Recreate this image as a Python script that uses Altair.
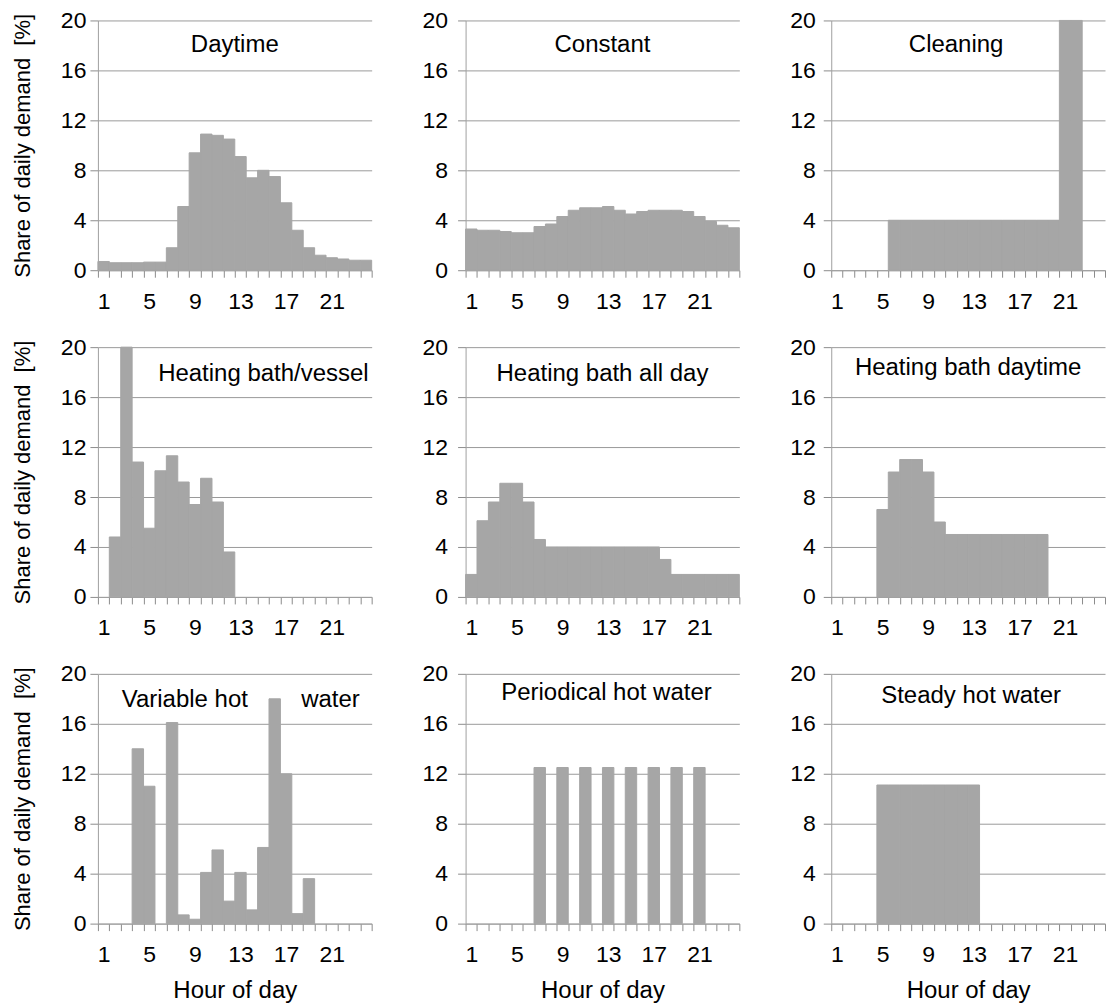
import altair as alt
import pandas as pd

hours = list(range(1, 25))
y_ticks = [0, 4, 8, 12, 16, 20]

daytime = [0.7, 0.6, 0.6, 0.6, 0.65, 0.65, 1.8, 5.1, 9.4, 10.9, 10.8, 10.5,
           9.1, 7.4, 8.0, 7.5, 5.4, 3.2, 1.8, 1.2, 1.0, 0.9, 0.8, 0.8]
constant = [3.3, 3.2, 3.2, 3.1, 3.0, 3.0, 3.5, 3.7, 4.3, 4.8, 5.0, 5.0,
            5.1, 4.8, 4.5, 4.7, 4.8, 4.8, 4.8, 4.7, 4.3, 3.9, 3.6, 3.4]
cleaning = [0, 0, 0, 0, 0, 4, 4, 4, 4, 4, 4, 4,
            4, 4, 4, 4, 4, 4, 4, 4, 20, 20, 0, 0]
heating_vessel = [0, 4.8, 20, 10.8, 5.5, 10.1, 11.3, 9.2, 7.4, 9.5, 7.6, 3.6,
                  0, 0, 0, 0, 0, 0, 0, 0, 0, 0, 0, 0]
heating_all_day = [1.8, 6.1, 7.6, 9.1, 9.1, 7.6, 4.6, 4, 4, 4, 4, 4,
                   4, 4, 4, 4, 4, 3, 1.8, 1.8, 1.8, 1.8, 1.8, 1.8]
heating_daytime = [0, 0, 0, 0, 7, 10, 11, 11, 10, 6, 5, 5,
                   5, 5, 5, 5, 5, 5, 5, 0, 0, 0, 0, 0]
variable = [0, 0, 0, 14, 11, 0, 16.1, 0.7, 0.35, 4.1, 5.9, 1.8,
            4.1, 1.1, 6.1, 18, 12, 0.8, 3.6, 0, 0, 0, 0, 0]
periodical = [0, 0, 0, 0, 0, 0, 12.5, 0, 12.5, 0, 12.5, 0,
              12.5, 0, 12.5, 0, 12.5, 0, 12.5, 0, 12.5, 0, 0, 0]
steady = [0, 0, 0, 0, 11.1, 11.1, 11.1, 11.1, 11.1, 11.1, 11.1, 11.1,
          11.1, 0, 0, 0, 0, 0, 0, 0, 0, 0, 0, 0]

titles = ["Daytime", "Constant", "Cleaning",
          "Heating bath/vessel", "Heating bath all day", "Heating bath daytime",
          "Variable hot" + "\u00a0" * 8 + "water", "Periodical hot water", "Steady hot water"]
series = [daytime, constant, cleaning,
          heating_vessel, heating_all_day, heating_daytime,
          variable, periodical, steady]

FONT = "Liberation Sans"
BAR = "#a6a6a6"
GRID = "#9a9a9a"
AXIS = "#a0a0a0"
TICK = "#8c8c8c"
W, H = 274, 250

# per-panel title placement (style only)
title_anchor = ["middle", "middle", "middle", "end", "middle", "middle", "middle", "middle", "middle"]
title_dx = [0, 0, -12, -3, 0, 0, 6, 4, 3]
title_center = [25, 25, 25, 27, 27, 21, 27, 20, 23]


def panel(i):
    row, col = divmod(i, 3)
    df = pd.DataFrame({"hour": hours, "share": series[i]})
    lab_pad = [4, 10, 8][col]
    y_axis = alt.Axis(values=y_ticks, grid=True, gridColor=GRID, gridWidth=1,
                      domainColor=AXIS, tickColor=TICK, tickSize=8,
                      labelFontSize=23, labelColor="#000", labelFont=FONT,
                      labelPadding=lab_pad, titleFont=FONT, titleFontSize=22,
                      titleFontWeight="normal", titleColor="#000", titlePadding=26)
    x_axis = alt.Axis(tickBand="extent",
                      labelExpr="datum.value % 4 == 1 ? datum.label : ''",
                      labelAngle=0, labelOverlap=False, labelFontSize=23,
                      labelFont=FONT, labelColor="#000", labelPadding=13,
                      tickSize=7, tickColor=TICK, domainColor=AXIS, grid=False,
                      titleFont=FONT, titleFontSize=24, titleFontWeight="normal",
                      titleColor="#000", titlePadding=12)
    y = alt.Y("share:Q", scale=alt.Scale(domain=[0, 20], nice=False), axis=y_axis,
              title="Share of daily demand\u00a0\u00a0[%]" if col == 0 else None)
    x = alt.X("hour:O", sort=hours,
              scale=alt.Scale(domain=hours, paddingInner=0, paddingOuter=0),
              axis=x_axis, title="Hour of day" if row == 2 else None)
    t = alt.Title(titles[i], anchor=title_anchor[i], dx=title_dx[i],
                  offset=-(title_center[i] + 34.5), baseline="middle", frame="group",
                  font=FONT, fontSize=24, fontWeight="normal", color="#000")
    return (
        alt.Chart(df, title=t)
        .transform_filter("datum.share > 0")
        .mark_bar(color=BAR, stroke=BAR, strokeWidth=1)
        .encode(x=x, y=y)
        .properties(width=W, height=H)
    )


rows = [alt.hconcat(*[panel(r * 3 + c) for c in range(3)], spacing=49) for r in range(3)]
chart = alt.vconcat(*rows, spacing=23).properties(
    padding={"left": 3, "top": 1, "right": 0, "bottom": 0}
).configure_view(strokeWidth=0)

chart.save("out.html", embed_options={"renderer": "svg", "actions": False})
